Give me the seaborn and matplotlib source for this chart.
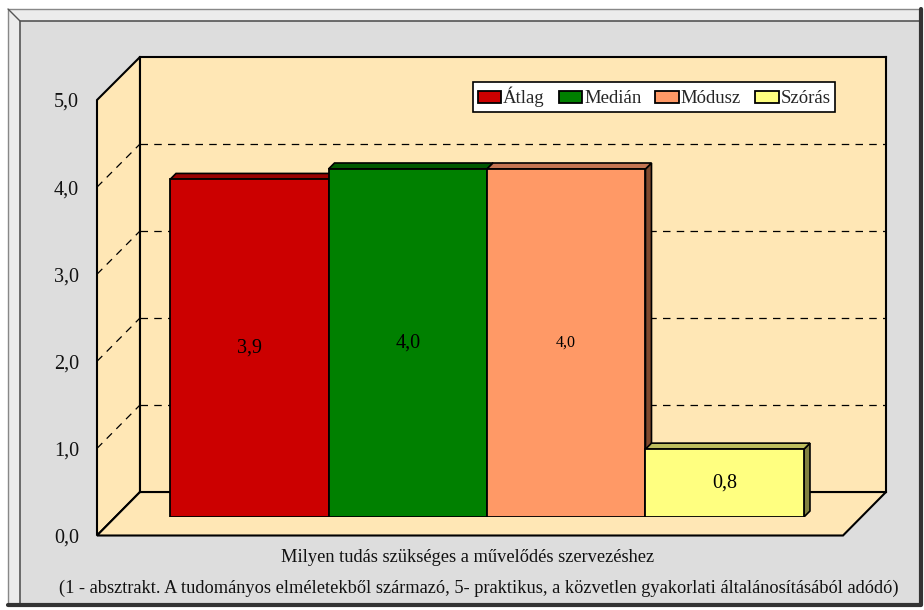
"""Excel-style 3D bar chart: Milyen tudás szükséges a művelődés szervezéshez"""
import matplotlib
matplotlib.use('Agg')
import matplotlib.pyplot as plt
from matplotlib.patches import Polygon, Rectangle
from matplotlib.lines import Line2D
import seaborn as sns

# data
stats = ['Átlag', 'Medián', 'Módusz', 'Szórás']
values = [3.88, 4.0, 4.0, 0.78]
front_colors = ['#CC0000', '#008000', '#FF9966', '#FFFF80']
top_colors = ['#990000', '#005800', '#C47452', '#BDBD5E']
side_colors = ['#660000', '#004000', '#7F4A2E', '#808040']
label_sizes = [14.5, 14.5, 11.5, 14.5]
yticks = [0, 1, 2, 3, 4, 5]
xlabel1 = 'Milyen tudás szükséges a művelődés szervezéshez'
xlabel2 = ('(1 - absztrakt. A tudományos elméletekből származó, 5- praktikus, '
           'a közvetlen gyakorlati általánosításából adódó)')

sns.set_style('white')
plt.rcParams['font.family'] = ['Liberation Serif', 'DejaVu Serif']

W, H = 924, 610
fig = plt.figure(figsize=(W / 100, H / 100), dpi=100)
fig.patch.set_facecolor('white')


def fx(px):
    return px / W


def fy(py):
    return 1 - py / H


wall = '#FFE7B5'

# outer frame with bevel
fig.add_artist(Rectangle((fx(8), fy(605)), fx(921) - fx(8), fy(9) - fy(605),
                         transform=fig.transFigure, facecolor='#ECECEC',
                         edgecolor='#888888', lw=1, zorder=-3))
fig.add_artist(Rectangle((fx(20), fy(604)), fx(921) - fx(20), fy(21) - fy(604),
                         transform=fig.transFigure, facecolor='#DDDDDD',
                         edgecolor='#555555', lw=1.2, zorder=-3))
fig.add_artist(Line2D([fx(8), fx(20)], [fy(9), fy(21)], transform=fig.transFigure,
                      color='#555555', lw=1, zorder=-3))
fig.add_artist(Line2D([fx(8), fx(921), fx(921)], [fy(605), fy(605), fy(9)],
                      transform=fig.transFigure, color='#333333', lw=3, zorder=-3))

xlim = (-0.844, 3.863)

# back wall
ax_back = fig.add_axes([fx(140), fy(492), (886 - 140) / W, (492 - 57) / H])
ax_back.set_facecolor(wall)
ax_back.set_xlim(*xlim)
ax_back.set_ylim(0, 5)
ax_back.set_xticks([])
ax_back.set_yticks([])
for s in ax_back.spines.values():
    s.set_color('black')
    s.set_linewidth(1.5)
for v in yticks[1:-1]:
    ax_back.axhline(v, color='black', lw=0.9, dashes=(6, 5))

# front plane (axis labels)
ax_front = fig.add_axes([fx(97), fy(535.5), 746 / W, 435.5 / H], zorder=2)
ax_front.set_facecolor('none')
ax_front.set_xlim(*xlim)
ax_front.set_ylim(0, 5)
ax_front.set_xticks([])
ax_front.set_yticks(yticks)
ax_front.set_yticklabels([f'{v:.1f}'.replace('.', ',') for v in yticks])
ax_front.tick_params(axis='y', length=0, pad=13, labelsize=14.5, labelcolor='#111111')
for s in ax_front.spines.values():
    s.set_visible(False)

# side wall and floor, built from the two planes
fb = ax_front.get_position()
bb = ax_back.get_position()
fig.add_artist(Polygon([(fb.x0, fb.y1), (bb.x0, bb.y1), (bb.x0, bb.y0), (fb.x0, fb.y0)],
                       closed=True, transform=fig.transFigure, facecolor=wall,
                       edgecolor='black', lw=1.5, zorder=-1))
fig.add_artist(Polygon([(fb.x0, fb.y0), (bb.x0, bb.y0), (bb.x1, bb.y0), (fb.x1, fb.y0)],
                       closed=True, transform=fig.transFigure, facecolor=wall,
                       edgecolor='black', lw=1.5, zorder=-1))
for v in yticks[1:-1]:
    fig.add_artist(Line2D([fb.x0, bb.x0],
                          [fb.y0 + v / 5 * fb.height, bb.y0 + v / 5 * bb.height],
                          transform=fig.transFigure, color='black', lw=0.9,
                          dashes=(6, 5), zorder=-0.5))

# bars
ax = fig.add_axes([fx(115.5), fy(517), 746 / W, 435 / H], zorder=1)
ax.set_facecolor('none')
sns.barplot(x=stats, y=values, hue=stats, palette=front_colors, saturation=1,
            width=1.0, edgecolor='black', linewidth=1.3, legend=False, ax=ax)
ax.set_xlim(*xlim)
ax.set_ylim(0, 5)
ax.set_axis_off()

dx = 6 / 158.5
dy = 6 / 87
for i, cont in enumerate(ax.containers):
    for bar in cont:
        x, w, h = bar.get_x(), bar.get_width(), bar.get_height()
        ax.add_patch(Polygon([(x + w, 0), (x + w, h), (x + w + dx, h + dy), (x + w + dx, dy)],
                             closed=True, facecolor=side_colors[i], edgecolor='black',
                             lw=1.2, zorder=0.5))
        ax.add_patch(Polygon([(x, h), (x + w, h), (x + w + dx, h + dy), (x + dx, h + dy)],
                             closed=True, facecolor=top_colors[i], edgecolor='black',
                             lw=1.2, zorder=0.5))
    ax.bar_label(cont, labels=[f'{values[i]:.1f}'.replace('.', ',')],
                 label_type='center', fontsize=label_sizes[i], color='black')

# legend
handles = [c[0] for c in ax.containers]
leg = fig.legend(handles, stats, loc='upper left',
                 bbox_to_anchor=(fx(473), fy(82)), ncol=4, frameon=True,
                 fancybox=False, edgecolor='black', framealpha=1,
                 fontsize=13.5, handlelength=1.25, handleheight=0.6,
                 handletextpad=0.1, columnspacing=0.75, borderpad=0.25,
                 borderaxespad=0)
leg.get_frame().set_linewidth(1.2)

fig.text(fx(468), fy(557), xlabel1, ha='center', va='center', fontsize=13.2, color='#111111')
fig.text(fx(479), fy(588), xlabel2, ha='center', va='center', fontsize=13.2, color='#111111')

plt.savefig('out.png', dpi=100)
